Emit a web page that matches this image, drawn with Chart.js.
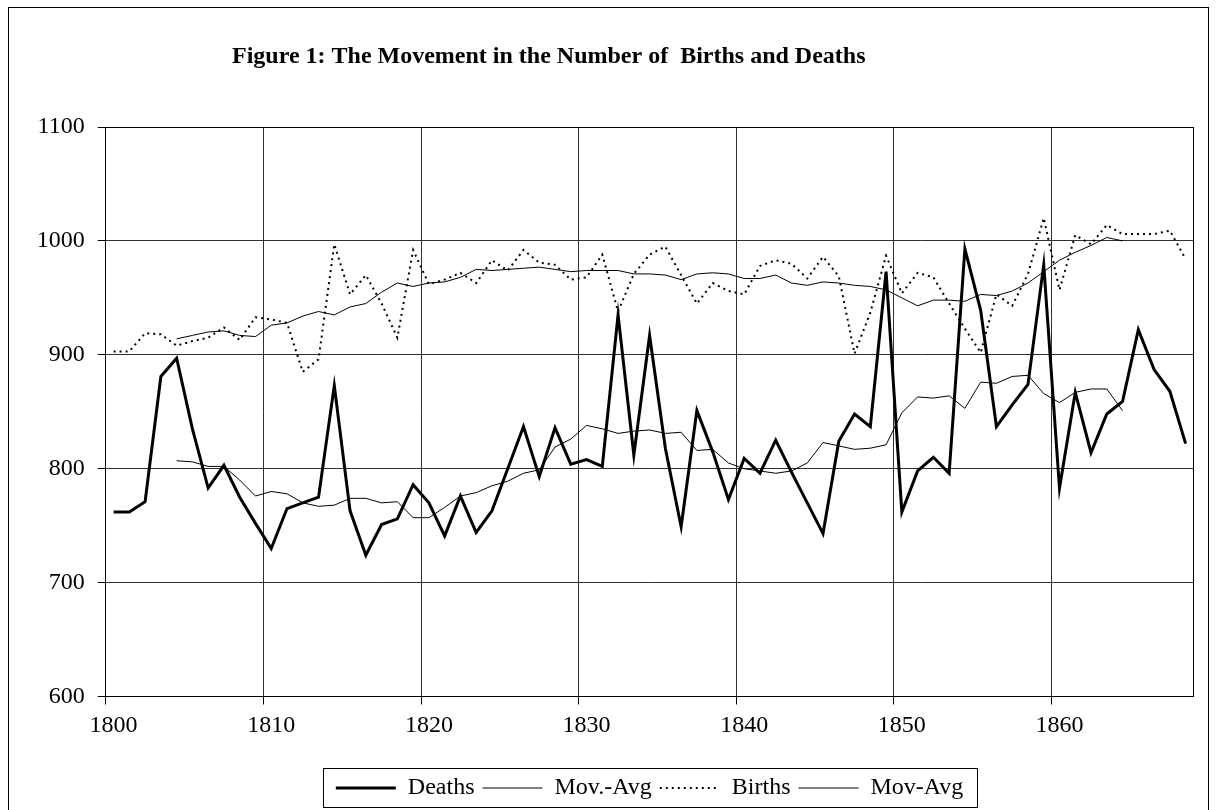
<!DOCTYPE html>
<html>
<head>
<meta charset="utf-8">
<script src="https://cdn.jsdelivr.net/npm/chart.js@4/dist/chart.umd.min.js"></script>
<style>
  html, body { margin: 0; padding: 0; background: #fff; }
  canvas { display: block; }
</style>
</head>
<body>
<canvas id="popChart" width="1217" height="810"></canvas>
<script>
// years 1800 - 1868
var years = [];
for (var y = 1800; y <= 1868; y++) years.push(String(y));

var deaths = [
  762, 762, 771, 881, 897, 835, 783, 803, 775, 752,
  730, 765, 770, 775, 873, 763, 724, 751, 756, 786,
  770, 741, 776, 744, 763, 800, 837, 793, 836, 804,
  808, 802, 935, 812, 917, 818, 749, 851, 815, 773,
  809, 796, 825, 797, 770, 743, 824, 848, 837, 973,
  762, 798, 810, 796, 993, 939, 837, 856, 874, 979,
  783, 867, 814, 848, 859, 922, 887, 868, 822
];

// 9-year moving average, 1804 - 1864
var deathsAvg = [
  null, null, null, null,
  807, 806, 802, 802, 790, 776,
  780, 778, 770, 767, 768, 774, 774, 770, 771, 757,
  757, 766, 776, 779, 785, 789, 796, 799, 819, 826,
  838, 835, 831, 833, 834, 831, 832, 816, 817, 805,
  800, 798, 796, 798, 805, 823, 820, 817, 818, 821,
  849, 863, 862, 864, 853, 876, 875, 881, 882, 866,
  858, 867, 870, 870, 851,
  null, null, null, null
];

var births = [
  903, 903, 919, 918, 908, 912, 915, 924, 913, 933,
  931, 928, 885, 896, 997, 953, 970, 945, 915, 992,
  962, 966, 972, 963, 983, 974, 992, 981, 979, 966,
  968, 988, 938, 971, 988, 995, 970, 945, 963, 956,
  953, 978, 983, 980, 967, 986, 969, 901, 937, 987,
  954, 972, 968, 945, 923, 902, 953, 943, 971, 1020,
  957, 1005, 997, 1014, 1006, 1006, 1006, 1009, 984
];

var birthsAvg = [
  null, null, null, null,
  914, 917, 920, 921, 917, 916,
  926, 928, 934, 938, 935, 942, 945, 955, 963, 960,
  963, 964, 968, 975, 974, 975, 976, 977, 975, 973,
  974, 974, 974, 971, 971, 970, 966, 971, 972, 971,
  967, 967, 970, 963, 961, 964, 963, 961, 960, 957,
  950, 943, 948, 948, 947, 953, 952, 956, 963, 973,
  983, 990, 996, 1003, 1000,
  null, null, null, null
];

var yTicks = [600, 700, 800, 900, 1000, 1100];

var serif = 'Liberation Serif, Times New Roman, serif';
var titleText = 'Figure 1: The Movement in the Number of  Births and Deaths';

function align(v) {
  return Math.round(v - 0.5) + 0.5;
}

// frame, title, plot box and legend box
var decorations = {
  id: 'decorations',
  afterDraw: function(chart) {
    var ctx = chart.ctx;
    var a = chart.chartArea;
    ctx.save();
    ctx.strokeStyle = '#000';
    ctx.lineWidth = 1;
    ctx.strokeRect(8.5, 7.5, 1200, 900);

    ctx.strokeRect(align(a.left), align(a.top), align(a.right) - align(a.left), align(a.bottom) - align(a.top));

    var boxes = chart.legend.legendHitBoxes;
    if (boxes && boxes.length) {
      var first = boxes[0], last = boxes[boxes.length - 1];
      var cy = first.top + first.height / 2;
      var lx = align(first.left - 12);
      var rx = align(last.left + last.width + 14);
      ctx.strokeRect(lx, align(cy - 19.5), rx - lx, 39);
    }

    ctx.fillStyle = '#000';
    ctx.font = 'bold 24px ' + serif;
    ctx.textAlign = 'left';
    ctx.textBaseline = 'alphabetic';
    ctx.fillText(titleText, 232, 63);
    ctx.restore();
  }
};

var ctx = document.getElementById('popChart').getContext('2d');
var popChart = new Chart(ctx, {
  type: 'line',
  data: {
    labels: years,
    datasets: [{
      label: 'Deaths',
      data: deaths,
      borderColor: '#000',
      borderWidth: 3,
      pointRadius: 0,
      tension: 0
    }, {
      label: 'Mov.-Avg',
      data: deathsAvg,
      borderColor: '#000',
      borderWidth: 1,
      pointRadius: 0,
      tension: 0
    }, {
      label: 'Births',
      data: births,
      borderColor: '#000',
      borderWidth: 2,
      borderDash: [2, 4],
      pointRadius: 0,
      tension: 0
    }, {
      label: 'Mov-Avg',
      data: birthsAvg,
      borderColor: '#000',
      borderWidth: 1,
      pointRadius: 0,
      tension: 0
    }]
  },
  options: {
    responsive: false,
    animation: false,
    layout: {
      padding: { left: 0, right: 23.5, top: 127, bottom: 0 }
    },
    plugins: {
      title: { display: false },
      tooltip: { enabled: false },
      legend: {
        position: 'bottom',
        fullSize: false,
        labels: {
          usePointStyle: true,
          pointStyle: 'line',
          pointStyleWidth: 60,
          padding: 8,
          color: '#000',
          font: { family: serif, size: 24 },
          generateLabels: function(chart) {
            var items = Chart.defaults.plugins.legend.labels.generateLabels(chart);
            items.forEach(function(item) {
              var ds = chart.data.datasets[item.datasetIndex];
              item.lineWidth = ds.borderWidth;
              item.lineDash = ds.borderDash || [];
              item.strokeStyle = ds.borderColor;
            });
            return items;
          }
        }
      }
    },
    scales: {
      x: {
        type: 'category',
        offset: true,
        grid: {
          offset: true,
          lineWidth: 1,
          tickLength: 8,
          color: function(c) {
            if (c.index === undefined) return 'transparent';
            return c.index % 10 === 0 ? '#303030' : 'transparent';
          },
          tickColor: function(c) {
            if (c.index === undefined) return 'transparent';
            return c.index % 10 === 0 ? '#000' : 'transparent';
          }
        },
        border: { color: '#000', width: 1 },
        ticks: {
          autoSkip: false,
          maxRotation: 0,
          minRotation: 0,
          padding: 7,
          color: '#000',
          font: { family: serif, size: 24 },
          callback: function(value, index) {
            return index % 10 === 0 ? this.getLabelForValue(value) : '';
          }
        },
        afterFit: function(scale) { scale.height = 71.5; }
      },
      y: {
        min: yTicks[0],
        max: yTicks[yTicks.length - 1],
        afterBuildTicks: function(scale) {
          scale.ticks = yTicks.map(function(v) { return { value: v }; });
        },
        grid: {
          color: '#303030',
          lineWidth: 1,
          tickLength: 8,
          tickColor: '#000'
        },
        border: { color: '#000', width: 1 },
        ticks: {
          padding: 13,
          color: '#000',
          font: { family: serif, size: 24 },
          callback: function(value) { return String(value); }
        },
        afterFit: function(scale) { scale.width = 105.7; }
      }
    }
  },
  plugins: [decorations]
});
</script>
</body>
</html>
